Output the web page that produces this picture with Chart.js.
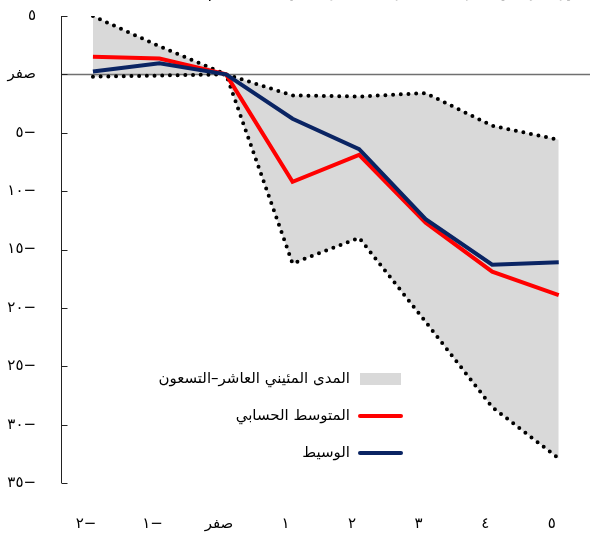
<!DOCTYPE html>
<html lang="ar">
<head>
<meta charset="utf-8">
<script src="https://cdn.jsdelivr.net/npm/chart.js@4.4.1/dist/chart.umd.min.js"></script>
<style>
  html, body { margin: 0; padding: 0; background: #fff; }
  canvas { display: block; }
</style>
</head>
<body>
<canvas id="chart" width="590" height="533"></canvas>
<script>
// Years relative to the event (−2 … 5)
const years = [-2, -1, 0, 1, 2, 3, 4, 5];
const yearLabels = ['٢−', '١−', 'صفر', '١', '٢', '٣', '٤', '٥'];

// Series (percent)
const meanValues   = [1.5, 1.35, 0, -9.2, -6.9, -12.7, -16.9, -18.9];
const medianValues = [0.25, 0.95, 0, -3.8, -6.4, -12.4, -16.3, -16.1];
const p90Values    = [5.0, 2.4, 0, -1.8, -1.9, -1.6, -4.4, -5.6];
const p10Values    = [-0.2, -0.1, 0, -16.2, -14.0, -21.2, -28.5, -32.9];

// Vertical axis ticks
const yTickValues = [5, 0, -5, -10, -15, -20, -25, -30, -35];
const yTickLabels = ['٥', 'صفر', '٥−', '١٠−', '١٥−', '٢٠−', '٢٥−', '٣٠−', '٣٥−'];

// Legend texts
const rangeLabel  = 'المدى المئيني العاشر–التسعون';
const meanLabel   = 'المتوسط الحسابي';
const medianLabel = 'الوسيط';
const titleText   = 'تطور الناتج حول الأزمات المصرفية (الانحراف عن الاتجاه العام، ٪)';

const FONT = '"DejaVu Sans", "Noto Sans", sans-serif';
const toPoints = vals => vals.map((v, i) => ({ x: years[i], y: v }));

// Axis line, inward ticks, tick labels and the zero reference line
const axisMarks = {
  id: 'axisMarks',
  beforeDatasetsDraw(chart, args, opts) {
    const { ctx, chartArea, scales } = chart;
    const x = scales.x, y = scales.y;
    ctx.save();
    // zero line
    const y0 = Math.round(y.getPixelForValue(0)) + 0.5;
    ctx.strokeStyle = '#707070';
    ctx.lineWidth = 1.6;
    ctx.beginPath();
    ctx.moveTo(chartArea.left, y0);
    ctx.lineTo(chartArea.right, y0);
    ctx.stroke();
    // vertical axis with inward ticks
    const x0 = Math.round(chartArea.left) + 0.5;
    ctx.strokeStyle = '#222';
    ctx.lineWidth = 1;
    ctx.beginPath();
    ctx.moveTo(x0, y.getPixelForValue(yTickValues[0]));
    ctx.lineTo(x0, y.getPixelForValue(yTickValues[yTickValues.length - 1]));
    ctx.stroke();
    yTickValues.forEach(v => {
      const py = Math.round(y.getPixelForValue(v)) + 0.5;
      ctx.beginPath();
      ctx.moveTo(x0, py);
      ctx.lineTo(x0 + 6, py);
      ctx.stroke();
    });
    // tick labels
    ctx.fillStyle = '#000';
    ctx.font = opts.font;
    ctx.textBaseline = 'middle';
    ctx.textAlign = 'right';
    yTickValues.forEach((v, i) => {
      ctx.fillText(yTickLabels[i], chartArea.left - opts.yPad, y.getPixelForValue(v));
    });
    ctx.textAlign = 'center';
    years.forEach((v, i) => {
      ctx.fillText(yearLabels[i], x.getPixelForValue(v) + opts.xShift, opts.xLabelY);
    });
    ctx.restore();
  }
};

// Right-to-left legend placed inside the plot
const inlineLegend = {
  id: 'inlineLegend',
  afterDraw(chart, args, opts) {
    const { ctx } = chart;
    const ds = chart.data.datasets;
    ctx.save();
    ctx.font = opts.font;
    ctx.textAlign = 'right';
    ctx.textBaseline = 'middle';
    ctx.direction = 'rtl';
    opts.items.forEach((item, i) => {
      const d = ds[item.index];
      const cy = opts.top + i * opts.rowGap;
      if (item.kind === 'box') {
        ctx.fillStyle = d.backgroundColor;
        ctx.fillRect(opts.symbolLeft, cy - 6, opts.symbolRight - opts.symbolLeft, 12);
      } else {
        ctx.strokeStyle = d.borderColor;
        ctx.lineWidth = d.borderWidth;
        ctx.lineCap = 'round';
        ctx.beginPath();
        ctx.moveTo(opts.symbolLeft, cy);
        ctx.lineTo(opts.symbolRight, cy);
        ctx.stroke();
      }
      ctx.fillStyle = '#000';
      ctx.fillText(d.label, opts.textRight, cy);
    });
    ctx.restore();
  }
};

// Heading sitting above the canvas edge
const heading = {
  id: 'heading',
  afterDraw(chart, args, opts) {
    const { ctx } = chart;
    ctx.save();
    ctx.font = opts.font;
    ctx.fillStyle = '#000';
    ctx.textAlign = 'right';
    ctx.textBaseline = 'alphabetic';
    ctx.direction = 'rtl';
    ctx.fillText(opts.text, opts.x, opts.y);
    ctx.restore();
  }
};

new Chart(document.getElementById('chart'), {
  type: 'line',
  data: {
    datasets: [
      {
        label: medianLabel,
        data: toPoints(medianValues),
        borderColor: '#0a2463',
        borderWidth: 4,
        order: 0,
        fill: false
      },
      {
        label: meanLabel,
        data: toPoints(meanValues),
        borderColor: '#ff0000',
        borderWidth: 4,
        order: 1,
        fill: false
      },
      {
        label: rangeLabel,
        data: toPoints(p90Values),
        borderColor: '#000',
        borderWidth: 4,
        borderDash: [0, 7.7],
        borderCapStyle: 'round',
        backgroundColor: '#d9d9d9',
        order: 2,
        fill: '+1'
      },
      {
        label: '',
        data: toPoints(p10Values),
        borderColor: '#000',
        borderWidth: 4,
        borderDash: [0, 7.7],
        borderCapStyle: 'round',
        order: 3,
        fill: false
      }
    ]
  },
  options: {
    responsive: false,
    animation: false,
    events: [],
    layout: { padding: { top: 16, right: 0, bottom: 50, left: 61 } },
    elements: {
      point: { radius: 0 },
      line: { tension: 0, borderJoinStyle: 'miter' }
    },
    scales: {
      x: { type: 'linear', display: false, min: -2.48, max: 5.47 },
      y: { type: 'linear', display: false, min: -35, max: 5 }
    },
    plugins: {
      legend: { display: false },
      tooltip: { enabled: false },
      title: { display: false },
      filler: { drawTime: 'beforeDatasetsDraw' },
      axisMarks: {
        font: '15px ' + FONT,
        yPad: 25,
        xShift: -7,
        xLabelY: 524
      },
      inlineLegend: {
        font: '15px ' + FONT,
        items: [
          { index: 2, kind: 'box' },
          { index: 1, kind: 'line' },
          { index: 0, kind: 'line' }
        ],
        top: 379,
        rowGap: 37,
        symbolLeft: 360,
        symbolRight: 401,
        textRight: 350
      },
      heading: {
        font: '15px ' + FONT,
        text: titleText,
        x: 592,
        y: -3
      }
    }
  },
  plugins: [axisMarks, inlineLegend, heading]
});
</script>
</body>
</html>
